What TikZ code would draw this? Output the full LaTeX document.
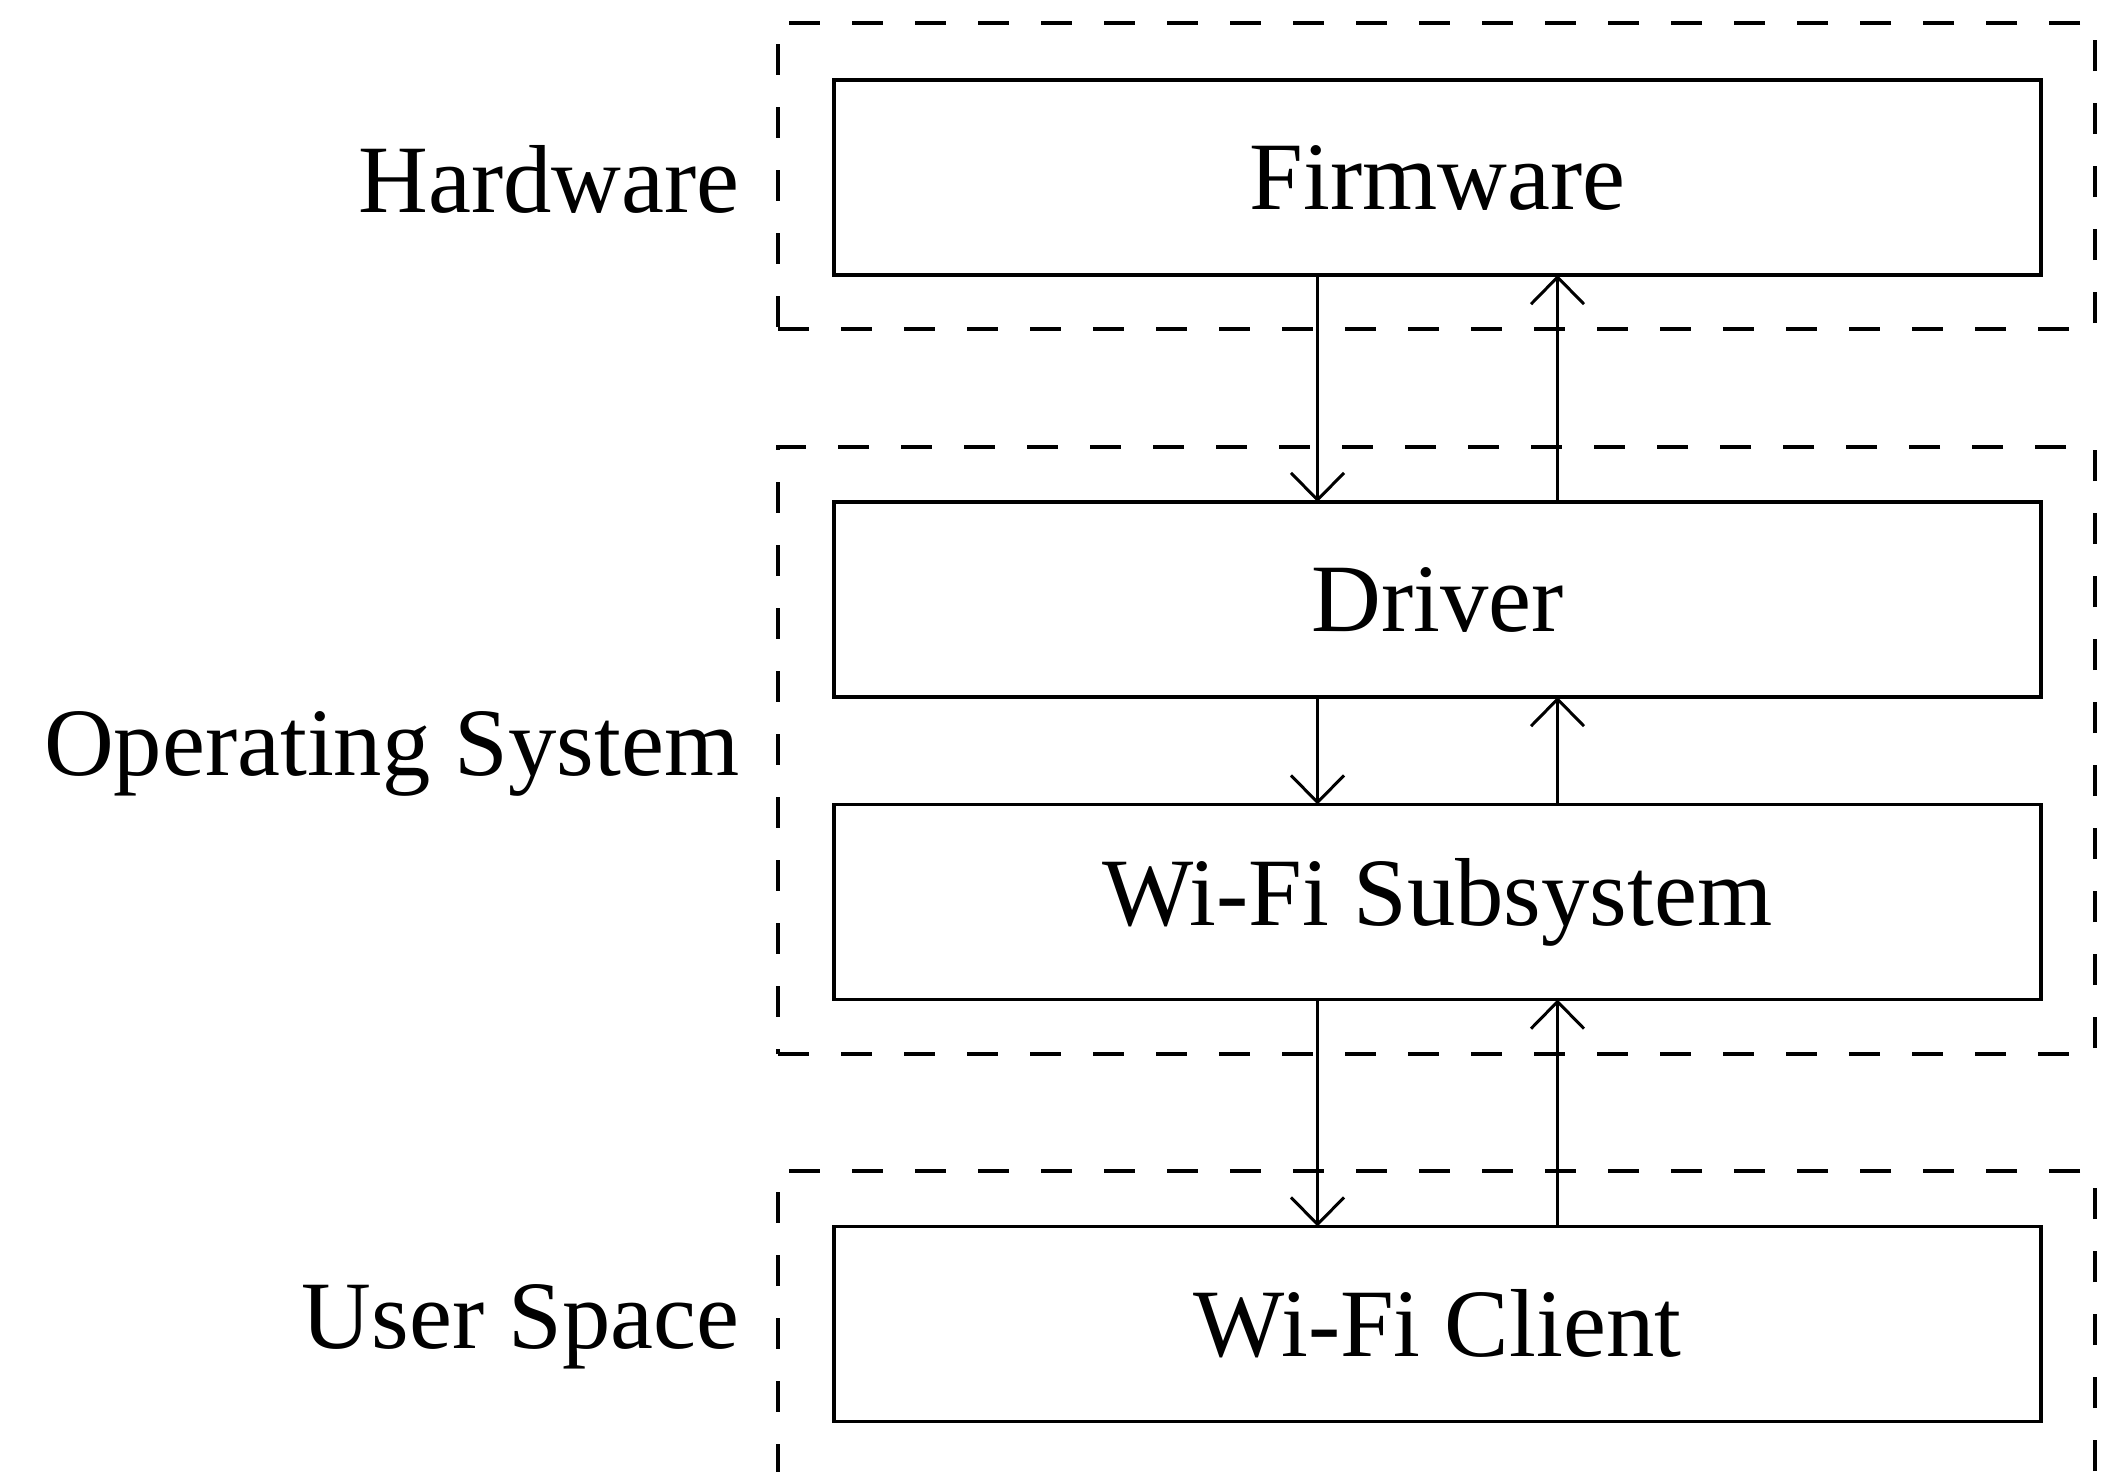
\documentclass[tikz,border=0pt]{standalone}
\usepackage{fontspec}
\setmainfont{Liberation Serif}
\usetikzlibrary{arrows.meta}
\begin{document}
\begin{tikzpicture}[
  font=\fontsize{27.5}{33}\selectfont,
  layerbox/.style={draw, line width=0.9pt, inner sep=0pt, outer sep=0pt,
    minimum width=12.07cm, minimum height=1.95cm},
  groupbox/.style={draw, line width=0.9pt, dash pattern=on 0.31cm off 0.32cm,
    inner sep=0pt, outer sep=0pt, minimum width=13.17cm},
  grouplabel/.style={anchor=east, inner sep=0pt},
  flow/.style={line width=0.85pt, -{Straight Barb[length=2.7mm,width=5.3mm,line width=0.85pt]}}
]
\useasboundingbox (0,0) rectangle (21.15,-14.71);
\clip (0,0) rectangle (21.15,-14.71);

% group boxes
\node[groupbox, minimum height=3.06cm] (hw) at (14.365,-1.76) {};
\node[groupbox, minimum height=6.07cm] (os) at (14.365,-7.505) {};
\node[groupbox, minimum height=3.06cm] (us) at (14.365,-13.24) {};

% layer boxes
\node[layerbox] (fw) at (14.375,-1.775) {Firmware};
\node[layerbox] (drv) at (14.375,-5.995) {Driver};
\node[layerbox] (sub) at (14.375,-9.02) {Wi-Fi Subsystem};
\node[layerbox] (cli) at (14.375,-13.24) {Wi-Fi Client};

% group labels
\node[grouplabel] (hwl) at ([xshift=-0.38cm,yshift=-0.03cm]hw.west) {Hardware};
\node[grouplabel] (osl) at ([xshift=-0.38cm,yshift=-0.03cm]os.west) {Operating System};
\node[grouplabel] (usl) at ([xshift=-0.38cm,yshift=-0.03cm]us.west) {User Space};

% connectors
\draw[flow] ([xshift=-1.2cm]fw.south) -- ([xshift=-1.2cm]drv.north);
\draw[flow] ([xshift=1.2cm]drv.north) -- ([xshift=1.2cm]fw.south);
\draw[flow] ([xshift=-1.2cm]drv.south) -- ([xshift=-1.2cm]sub.north);
\draw[flow] ([xshift=1.2cm]sub.north) -- ([xshift=1.2cm]drv.south);
\draw[flow] ([xshift=-1.2cm]sub.south) -- ([xshift=-1.2cm]cli.north);
\draw[flow] ([xshift=1.2cm]cli.north) -- ([xshift=1.2cm]sub.south);
\end{tikzpicture}
\end{document}
